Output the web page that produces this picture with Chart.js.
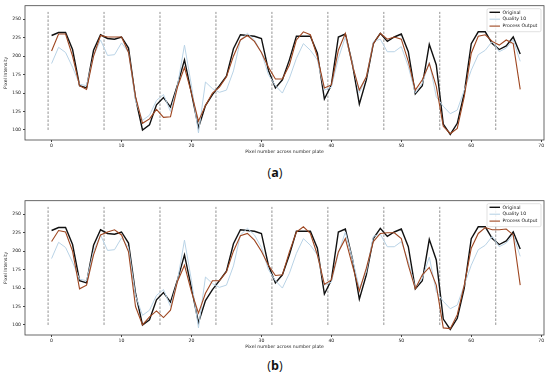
<!DOCTYPE html>
<html>
<head>
<meta charset="utf-8">
<script src="https://cdn.jsdelivr.net/npm/chart.js@4/dist/chart.umd.min.js"></script>
<style>
  html, body { margin:0; padding:0; background:#fff; }
  body { width:550px; height:379px; position:relative; overflow:hidden; }
  .cv { position:absolute; left:0; width:550px; height:160px; }
  .lab { position:absolute; width:550px; left:0; text-align:center; font-family:"Open Sans","DejaVu Sans",sans-serif; font-size:12.5px; color:#111; }
</style>
</head>
<body>
<div class="cv" style="top:0"><canvas id="ca" width="550" height="160"></canvas></div>
<div class="lab" style="top:164px">(<b>a</b>)</div>
<div class="cv" style="top:195px"><canvas id="cb" width="550" height="160"></canvas></div>
<div class="lab" style="top:357px">(<b>b</b>)</div>
<script>
// ---- data ----
const pixels = [0,1,2,3,4,5,6,7,8,9,10,11,12,13,14,15,16,17,18,19,20,21,22,23,24,25,26,27,28,29,30,31,32,33,34,35,36,37,38,39,40,41,42,43,44,45,46,47,48,49,50,51,52,53,54,55,56,57,58,59,60,61,62,63,64,65,66,67];
const original = [228,232,232,209,160,157,208,229,224,223,226,211,143,100,107,134,144,131,161,195,150,103,133,148,160,173,210,229,228,227,224,181,157,168,195,227,227,227,204,142,161,226,230,190,135,168,217,231,220,226,230,206,149,160,216,188,108,94,109,150,217,233,233,217,209,214,226,203];
const quality10 = [190,212,205,185,162,160,200,222,201,202,218,205,140,113,120,140,148,125,160,215,160,96,165,156,151,154,180,222,231,222,205,175,160,150,170,197,217,208,195,154,158,197,226,190,150,172,220,223,206,206,213,186,150,163,192,145,132,122,127,154,181,202,208,220,206,211,222,193];
const processA = [207,230,230,200,160,155,200,228,226,226,226,205,145,109,115,128,117,118,158,185,150,112,133,150,158,172,200,222,228,220,205,185,169,169,188,222,233,229,199,157,161,208,231,188,154,172,217,231,223,226,223,193,154,168,190,159,105,95,102,145,204,227,229,220,215,222,217,155];
const processB = [213,228,226,200,149,154,195,222,226,229,222,199,125,100,111,119,110,120,159,181,145,116,143,160,160,172,200,221,224,215,200,181,167,168,199,226,233,224,195,155,161,199,217,181,146,177,213,224,225,225,217,181,149,168,178,154,96,95,114,154,204,224,232,229,229,230,222,154];
const blockEdges = [-0.5,7.5,15.5,23.5,31.5,39.5,47.5,55.5,63.5];
const blockLineRange = [100,260];
const xTicks = [0,10,20,30,40,50,60,70];
const yTicks = [100,125,150,175,200,225,250];
const seriesNames = ['Original','Quality 10','Process Output'];
const seriesColors = ['#111111','#b9d3e6','#9e4620'];

const FONT = '"DejaVu Sans", sans-serif';

const framePlugin = {
  id:'frame',
  afterDraw(chart){
    const {ctx, chartArea:a} = chart;
    ctx.save();
    ctx.strokeStyle = '#444';
    ctx.lineWidth = 0.8;
    ctx.strokeRect(a.left, a.top, a.right - a.left, a.bottom - a.top);
    // legend
    const w = 54, h = 23;
    const lx = a.right - w - 3, ly = a.top + 3;
    ctx.fillStyle = 'rgba(255,255,255,0.85)';
    ctx.strokeStyle = '#cccccc';
    ctx.lineWidth = 0.6;
    ctx.beginPath();
    if (ctx.roundRect) ctx.roundRect(lx, ly, w, h, 1.5); else ctx.rect(lx, ly, w, h);
    ctx.fill(); ctx.stroke();
    ctx.font = '4.6px ' + FONT;
    ctx.textBaseline = 'middle';
    ctx.textAlign = 'left';
    for (let i = 0; i < seriesNames.length; i++) {
      const yy = ly + 3.6 + i * 6.9;
      ctx.strokeStyle = seriesColors[i];
      ctx.lineWidth = i === 0 ? 1.4 : 1.1;
      ctx.beginPath(); ctx.moveTo(lx + 2.5, yy); ctx.lineTo(lx + 13, yy); ctx.stroke();
      ctx.fillStyle = '#111';
      ctx.fillText(seriesNames[i], lx + 15.5, yy);
    }
    ctx.restore();
  }
};

function buildChart(id, proc) {
  const datasets = [];
  blockEdges.forEach(e => {
    datasets.push({
      data: blockLineRange.map(v => ({x:e, y:v})),
      borderColor:'#777', borderWidth:0.8, borderDash:[2.5,1.5],
      pointRadius:0, fill:false, order:10
    });
  });
  const series = [original, quality10, proc];
  series.forEach((s, i) => {
    datasets.push({
      label: seriesNames[i],
      data: pixels.map((p, k) => ({x:p, y:s[k]})),
      borderColor: seriesColors[i],
      borderWidth: i === 0 ? 1.4 : (i === 1 ? 1.0 : 1.1),
      pointRadius:0, tension:0, fill:false,
      order: i === 0 ? 3 : (i === 1 ? 2 : 1)
    });
  });
  return new Chart(document.getElementById(id), {
    type:'line',
    data:{ datasets },
    plugins:[framePlugin],
    options:{
      responsive:false, animation:false, devicePixelRatio:1,
      layout:{ padding:{ left:0, top:5.7, right:6, bottom:0 } },
      plugins:{ legend:{display:false}, tooltip:{enabled:false} },
      scales:{
        x:{
          type:'linear', min:-3.8, max:70.4,
          afterBuildTicks(s){ s.ticks = xTicks.map(v => ({value:v})); },
          afterFit(s){ s.height = 20; },
          grid:{ display:true, drawOnChartArea:false, drawTicks:true, tickLength:2, color:'#444' },
          border:{ display:false },
          ticks:{ font:{family:FONT, size:4.6}, color:'#222', padding:1, maxRotation:0, autoSkip:false },
          title:{ display:true, text:'Pixel number across number plate', font:{family:FONT, size:4.6}, color:'#222', padding:{top:0, bottom:5} }
        },
        y:{
          min:86.4, max:268.4,
          afterBuildTicks(s){ s.ticks = yTicks.map(v => ({value:v})); },
          afterFit(s){ s.width = 25; },
          grid:{ display:true, drawOnChartArea:false, drawTicks:true, tickLength:2, color:'#444' },
          border:{ display:false },
          ticks:{ font:{family:FONT, size:4.6}, color:'#222', padding:2 },
          title:{ display:true, text:'Pixel Intensity', font:{family:FONT, size:4.6}, color:'#222', padding:{top:3.5, bottom:0} }
        }
      }
    }
  });
}
buildChart('ca', processA);
buildChart('cb', processB);
</script>
</body>
</html>
